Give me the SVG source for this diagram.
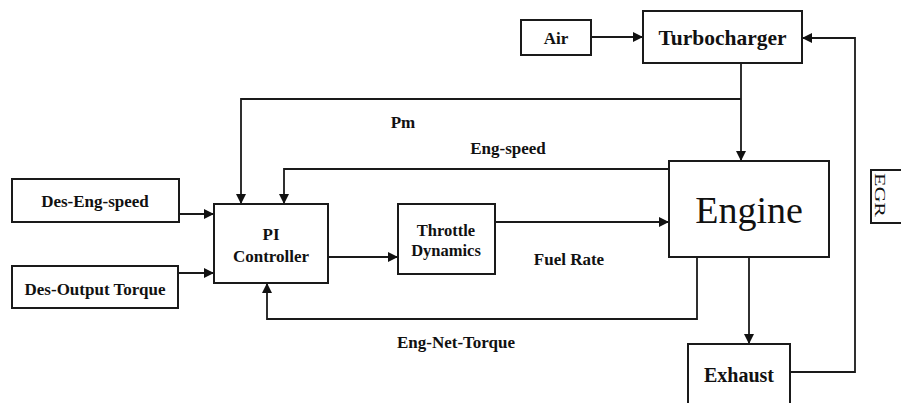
<svg xmlns="http://www.w3.org/2000/svg" width="901" height="403" viewBox="0 0 901 403">
<style>
.box{fill:#fff;stroke:#1a1a1a;stroke-width:2}
.ln{fill:none;stroke:#1a1a1a;stroke-width:1.8}
.arr{marker-end:url(#ah)}
text{font-family:"Liberation Serif","Times New Roman",serif;fill:#111}
.b{font-weight:bold;font-size:17px}
</style>
<defs>
<marker id="ah" viewBox="0 0 10 10" refX="10" refY="5" markerWidth="11" markerHeight="10" markerUnits="userSpaceOnUse" orient="auto">
<path d="M0,0 L10,5 L0,10 Z" fill="#111"/>
</marker>
</defs>
<rect width="901" height="403" fill="#fff"/>
<g id="connectors">
<path class="ln arr" d="M591,37 H643"/>
<path class="ln arr" d="M741,63 V161"/>
<path class="ln arr" d="M741,99 H241 V204"/>
<path class="ln arr" d="M669,169 H284 V204"/>
<path class="ln arr" d="M179,214 H214"/>
<path class="ln arr" d="M178,273 H214"/>
<path class="ln arr" d="M328,257 H398"/>
<path class="ln arr" d="M495,222 H669"/>
<path class="ln arr" d="M697,257 V319 H267 V283"/>
<path class="ln arr" d="M749,257 V344"/>
<path class="ln arr" d="M791,372 H855 V38 H802"/>
</g>
<g id="air"><rect class="box" x="521" y="20" width="70" height="35"/><text class="b" x="556" y="44" text-anchor="middle" font-size="16">Air</text></g>
<g id="turbocharger"><rect class="box" x="643" y="11" width="159" height="52"/><text class="b" x="722.5" y="45" text-anchor="middle" style="font-size:21.5px">Turbocharger</text></g>
<g id="des-eng-speed"><rect class="box" x="12" y="179" width="167" height="43"/><text class="b" x="95" y="207" text-anchor="middle">Des-Eng-speed</text></g>
<g id="des-output-torque"><rect class="box" x="12" y="266" width="166" height="42"/><text class="b" x="95" y="295" text-anchor="middle">Des-Output Torque</text></g>
<g id="pi-controller"><rect class="box" x="214" y="204" width="114" height="79"/><text class="b" x="271" y="240" text-anchor="middle">PI</text><text class="b" x="271" y="262" text-anchor="middle">Controller</text></g>
<g id="throttle"><rect class="box" x="398" y="204" width="97" height="70"/><text class="b" x="446" y="236" text-anchor="middle" style="font-size:16.5px">Throttle</text><text class="b" x="446" y="256" text-anchor="middle" style="font-size:16.5px">Dynamics</text></g>
<g id="engine"><rect class="box" x="669" y="161" width="160" height="96"/><text x="749" y="223" text-anchor="middle" font-size="38">Engine</text></g>
<g id="exhaust"><rect class="box" x="688" y="344" width="102" height="70"/><text class="b" x="739" y="382" text-anchor="middle" style="font-size:20px">Exhaust</text></g>
<g id="egr"><rect class="box" x="871" y="170" width="40" height="53"/><text x="875" y="195" text-anchor="middle" font-size="15" transform="rotate(90 875 195)" textLength="44" lengthAdjust="spacingAndGlyphs">EGR</text></g>
<g id="labels">
<text class="b" x="403" y="128" text-anchor="middle">Pm</text>
<text class="b" x="508" y="154" text-anchor="middle">Eng-speed</text>
<text class="b" x="569" y="265" text-anchor="middle">Fuel Rate</text>
<text class="b" x="456" y="348" text-anchor="middle">Eng-Net-Torque</text>
</g>
</svg>
